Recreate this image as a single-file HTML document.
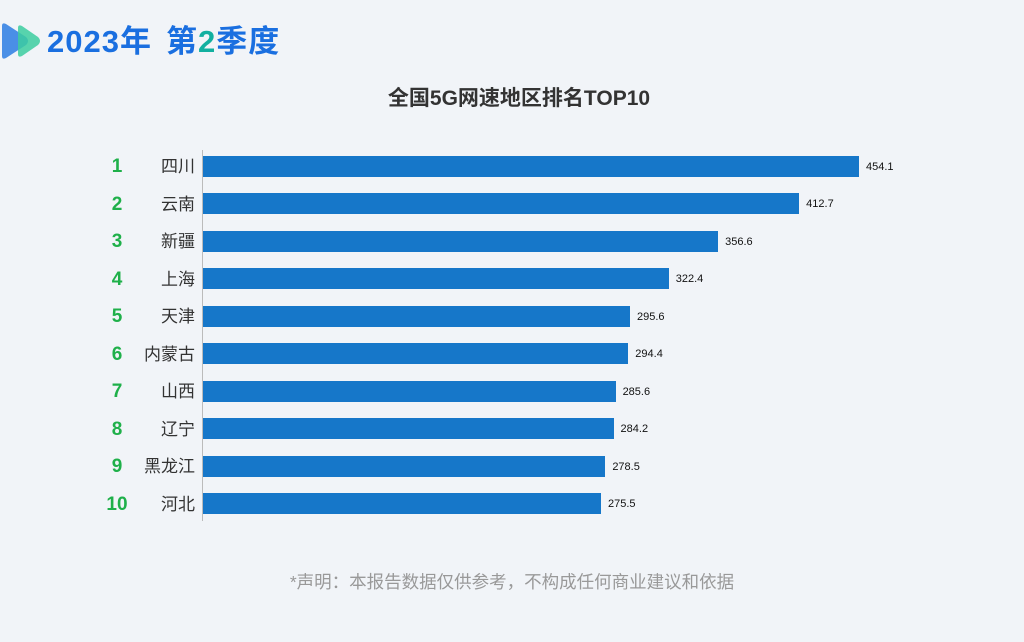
<!DOCTYPE html>
<html><head><meta charset="utf-8"><style>
body{margin:0;width:1024px;height:642px;background:#f1f4f8;overflow:hidden;position:relative;font-family:"Liberation Sans","Noto Sans CJK SC",sans-serif}
.abs{position:absolute}
.rk{position:absolute;width:40px;text-align:center;left:97px;font-weight:bold;color:#1fb04a;font-size:19px;line-height:22px}
.nm{position:absolute;right:829px;font-size:17px;color:#333;line-height:22px;white-space:nowrap}
.bar{position:absolute;left:203px;height:21px;background:#1677c9}
.v{position:absolute;font-size:11px;color:#111;line-height:21px}
</style></head><body>
<svg class="abs" style="left:0;top:22px" width="44" height="38"><path d="M2 4 Q2 0 6 2 L26 15 Q30 19 26 23 L6 36 Q2 38 2 34Z" fill="#4a8fe6"/><path d="M18 6 Q18 2 22 4 L38 15 Q42 19 38 23 L22 34 Q18 36 18 32Z" fill="#3ccca0" opacity=".85"/></svg>
<div class="abs" style="left:47px;top:22px;font-size:31px;font-weight:bold;color:#1a6fe0;letter-spacing:1px;line-height:40px;white-space:nowrap">2023年<span style="margin-left:14px">第<span style="color:#12b0a0">2</span>季度</span></div>
<div class="abs" style="left:0;width:1024px;top:85px;text-align:center;font-size:21px;font-weight:bold;color:#333;line-height:28px;padding-left:14px;box-sizing:border-box">全国5G网速地区排名TOP10</div>
<div class="abs" style="left:202px;top:150px;width:1px;height:371px;background:#bbb"></div>
<div id="c"></div>
<div class="abs" style="left:0;width:1024px;top:570px;text-align:center;font-size:17.5px;color:#999;line-height:24px;padding-left:0px;box-sizing:border-box">*声明：本报告数据仅供参考，不构成任何商业建议和依据</div>
<script>
var d=[["四川",454.1],["云南",412.7],["新疆",356.6],["上海",322.4],["天津",295.6],["内蒙古",294.4],["山西",285.6],["辽宁",284.2],["黑龙江",278.5],["河北",275.5]];
var h="";d.forEach(function(r,i){var c=166+i*37.55,w=r[1]*1.4446;
h+='<div class="rk" style="top:'+(c-10)+'px">'+(i+1)+'</div><div class="nm" style="top:'+(c-10)+'px">'+r[0]+'</div><div class="bar" style="top:'+(c-10.5)+'px;width:'+w+'px"></div><div class="v" style="top:'+(c-9.5)+'px;left:'+(203+w+7)+'px">'+r[1].toFixed(1)+'</div>';});
document.getElementById("c").innerHTML=h;
</script>
</body></html>
